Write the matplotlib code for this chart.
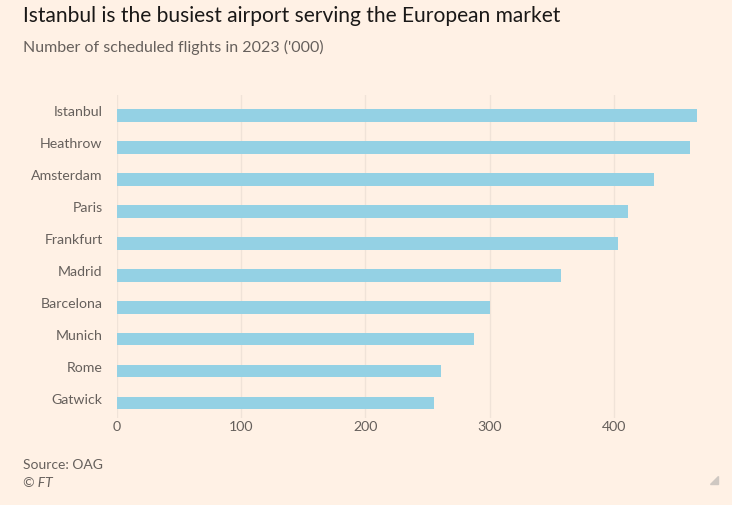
import matplotlib
matplotlib.use("Agg")
import matplotlib.pyplot as plt
import matplotlib.transforms as mtransforms
from matplotlib.patches import Polygon

# data
airports = ["Istanbul", "Heathrow", "Amsterdam", "Paris", "Frankfurt",
            "Madrid", "Barcelona", "Munich", "Rome", "Gatwick"]
flights = [466.8, 460.6, 431.7, 410.8, 403.0, 357.0, 299.8, 287.4, 260.6, 255.0]
xticks = [0, 100, 200, 300, 400]

bg = "#fff1e5"
bar_col = "#94d1e4"
grey = "#66605c"

plt.rcParams["font.family"] = ["Lato", "DejaVu Sans"]

fig = plt.figure(figsize=(7.32, 5.05), dpi=100, facecolor=bg)
ax = fig.add_axes([116.5 / 732, 1 - 418 / 505, (720 - 116.5) / 732, (418 - 95) / 505])
ax.set_facecolor(bg)

ypos = list(range(len(airports)))
ax.barh(ypos, flights, height=0.4, color=bar_col, zorder=2)

ax.set_xlim(0, 485)
ax.set_ylim(9.47, -0.64)
ax.set_xticks(xticks)
ax.set_yticks(ypos)
ax.set_yticklabels(airports)
ax.grid(axis="x", color="#f0e3d8", linewidth=1, zorder=0)
for s in ax.spines.values():
    s.set_visible(False)
ax.tick_params(axis="both", length=0, labelsize=10.2, labelcolor=grey)
ax.tick_params(axis="y", pad=10)
ax.tick_params(axis="x", pad=2)

# FT style: category labels sit a little above the bars
shift = mtransforms.ScaledTranslation(0, 4 / 100, fig.dpi_scale_trans)
for lbl in ax.get_yticklabels():
    lbl.set_transform(lbl.get_transform() + shift)

fig.text(23 / 732, 1 - 16 / 505, "Istanbul is the busiest airport serving the European market",
         fontsize=15.1, color="#1a1817", va="center", ha="left")
fig.text(23 / 732, 1 - 47 / 505, "Number of scheduled flights in 2023 ('000)",
         fontsize=11.5, color=grey, va="center", ha="left")
fig.text(23 / 732, 1 - 465 / 505, "Source: OAG", fontsize=10, color=grey, va="center")
fig.text(23 / 732, 1 - 483 / 505, "© FT", fontsize=10, color=grey, va="center", style="italic")

# little resize mark in the corner
tri = Polygon([(718 / 732, 1 - 476 / 505), (718 / 732, 1 - 484 / 505), (710 / 732, 1 - 484 / 505)],
              closed=True, transform=fig.transFigure, color="#cfc8c2")
fig.patches.append(tri)

fig.savefig("out.png", dpi=100, facecolor=bg)
